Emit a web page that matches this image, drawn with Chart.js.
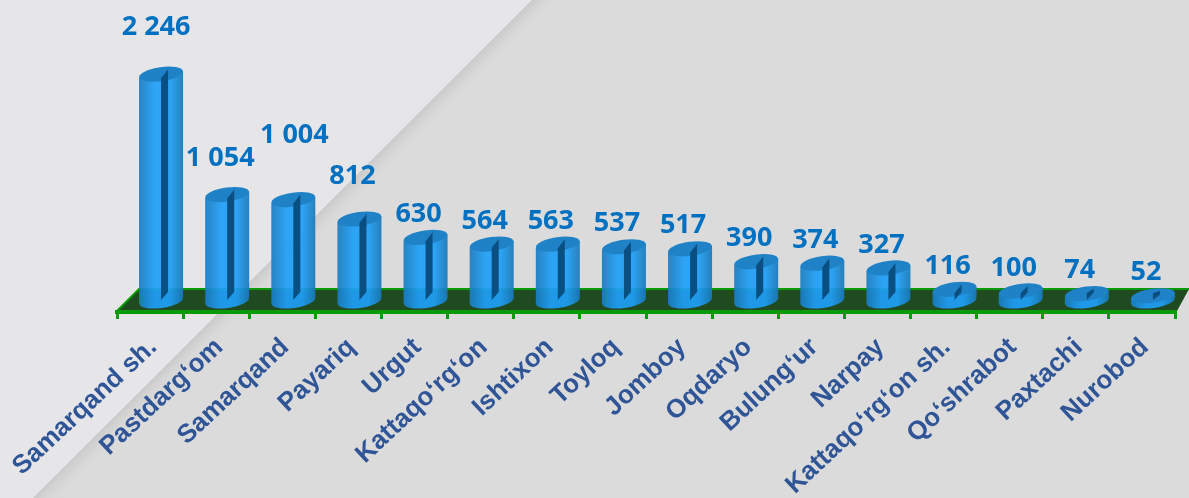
<!DOCTYPE html>
<html><head><meta charset="utf-8">
<style>html,body{margin:0;padding:0;background:#dcdcdc;overflow:hidden}canvas{display:block}</style>
<script src="https://cdn.jsdelivr.net/npm/chart.js@4"></script>
</head><body><canvas id="c" width="1189" height="498"></canvas>
<script>
const categories = ["Samarqand sh.","Pastdarg‘om","Samarqand","Payariq","Urgut","Kattaqo‘rg‘on","Ishtixon","Toyloq","Jomboy","Oqdaryo","Bulung‘ur","Narpay","Kattaqo‘rg‘on sh.","Qo‘shrabot","Paxtachi","Nurobod"];
const values = [2246,1054,1004,812,630,564,563,537,517,390,374,327,116,100,74,52];
const labelLift = [47,36,64,43,23,23,23,23,23,23,23,23,23,23,23,23];
const labelShift = [-5,-7,1,-7,-7,-7,-7,-7,-7,-7,-7,-7,-7,-7,-7,-7];
const fmt = v => String(v).replace(/\B(?=(\d{3})+$)/g,' ');
const DX = 11, DY = -11, RX = 22, RY = 7, TILT = -8*Math.PI/180;

const backdrop = {id:'backdrop', beforeDraw(chart){
  const g = chart.ctx, W = chart.width, H = chart.height;
  g.save();
  g.fillStyle = '#dbdbdb'; g.fillRect(0,0,W,H);
  g.shadowColor='rgba(170,170,170,.5)'; g.shadowBlur=14; g.shadowOffsetX=2; g.shadowOffsetY=2;
  g.fillStyle = '#e6e6e9';
  g.beginPath(); g.moveTo(-20,-20); g.lineTo(552,-20); g.lineTo(33,498); g.lineTo(13,518); g.lineTo(-20,518); g.closePath(); g.fill();
  g.restore();
  // floor
  const a = chart.scales.x, b = a.top;
  g.save();
  g.beginPath(); g.moveTo(a.left,b-1); g.lineTo(a.left+22,b-23); g.lineTo(W,b-23); g.lineTo(a.right+2,b-1); g.closePath();
  g.fillStyle='#204a20'; g.fill();
  g.strokeStyle='#089a08'; g.lineWidth=2;
  g.beginPath(); g.moveTo(a.left,b-1); g.lineTo(a.left+22,b-23); g.lineTo(W,b-23); g.stroke();
  g.restore();
}};

const cylinders = {id:'cylinders', beforeDatasetDraw(chart,args){
  const g = chart.ctx, meta = args.meta;
  meta.data.forEach(bar=>{
    const cx = bar.x+DX, yb = bar.base+DY, yt = bar.y+DY;
    const c = g.createLinearGradient(cx-RX,0,cx+RX,0);
    c.addColorStop(0,'#1a7cc0'); c.addColorStop(.14,'#1c8ad6'); c.addColorStop(.35,'#1f9ff6');
    c.addColorStop(.7,'#1f9ff6'); c.addColorStop(.9,'#1b86ce'); c.addColorStop(1,'#1a78b8');
    const tiltY = Math.sin(TILT)*RX;
    g.save();
    g.globalAlpha=.93;
    g.beginPath();
    g.moveTo(cx-RX,yb-tiltY);
    g.lineTo(cx-RX,yt-tiltY);
    g.lineTo(cx+RX,yt+tiltY);
    g.lineTo(cx+RX,yb+tiltY);
    g.ellipse(cx,yb,RX,RY,TILT,0,Math.PI);
    g.closePath(); g.fillStyle=c; g.fill();
    g.globalAlpha=1;
    g.beginPath(); g.ellipse(cx,yt,RX,RY,TILT,0,Math.PI*2); g.fillStyle='#2082c6'; g.fill();
    // inner dark slit
    g.beginPath();
    g.moveTo(cx,Math.min(yt+4,yb-8)); g.lineTo(cx+7,yt-5);
    g.lineTo(cx+7,Math.max(yb-9,yt-1)); g.lineTo(cx,yb-1);
    g.closePath(); g.fillStyle='#0a4f82'; g.fill();
    g.restore();
  });
  return false;
}};

const valueLabels = {id:'valueLabels', afterDatasetsDraw(chart){
  const g = chart.ctx, meta = chart.getDatasetMeta(0);
  g.save();
  g.font='bold 27px "Open Sans"'; g.fillStyle='#0070c0'; g.textAlign='center'; g.textBaseline='middle';
  meta.data.forEach((bar,i)=>{
    g.fillText(fmt(values[i]), bar.x+DX+labelShift[i], bar.y+DY-labelLift[i]);
  });
  g.restore();
}};

new Chart(document.getElementById('c'),{
  type:'bar',
  data:{labels:categories,datasets:[{data:values,backgroundColor:'#1f9ff6',categoryPercentage:1,barPercentage:.666}]},
  options:{
    responsive:false,animation:false,devicePixelRatio:1,
    layout:{padding:{left:117,right:14,top:9,bottom:0}},
    plugins:{legend:{display:false},tooltip:{enabled:false},title:{display:false}},
    scales:{
      y:{display:false,min:0,max:3000},
      x:{
        grid:{drawOnChartArea:false,drawTicks:true,color:'#089a08',lineWidth:3,tickLength:7},
        border:{display:true,color:'#089a08',width:4},
        ticks:{color:'#2f5597',font:{family:'"Liberation Sans"',size:26,weight:'bold'},minRotation:43,maxRotation:43,autoSkip:false,padding:13,labelOffset:3},
        afterFit(s){s.height=186;s.paddingLeft=0;s.paddingRight=0;}
      }
    }
  },
  plugins:[backdrop,cylinders,valueLabels]
});
</script></body></html>
